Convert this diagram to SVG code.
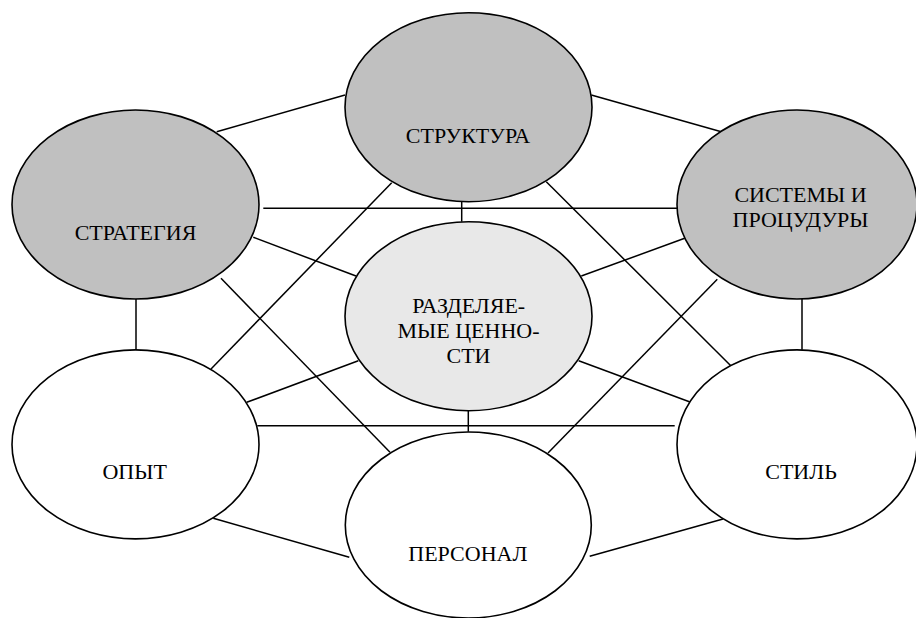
<svg xmlns="http://www.w3.org/2000/svg" width="916" height="618" viewBox="0 0 916 618">
<style>
.bg{fill:#ffffff}
.conn line{stroke:#000;stroke-width:1.5;fill:none}
.node ellipse{stroke:#000;stroke-width:1.6}
.dark{fill:#c0c0c0}
.light{fill:#e8e8e8}
.white{fill:#ffffff}
.lbl{font-family:"Times New Roman","Liberation Serif",serif;font-size:22px;fill:#000;text-anchor:middle}
</style>
<rect class="bg" x="0" y="0" width="916" height="618"/>
<g id="connectors" class="conn">
<line x1="216.7" y1="131.7" x2="345" y2="95"/>
<line x1="591.3" y1="95" x2="721.3" y2="131.7"/>
<line x1="263.3" y1="208.3" x2="677.3" y2="208.3"/>
<line x1="253.3" y1="237.3" x2="356" y2="276"/>
<line x1="221" y1="278.3" x2="390" y2="452.3"/>
<line x1="391.7" y1="182.7" x2="211" y2="369"/>
<line x1="136" y1="299" x2="136" y2="349.7"/>
<line x1="246.7" y1="402.3" x2="358.3" y2="360.7"/>
<line x1="257.3" y1="425.7" x2="674.7" y2="425.7"/>
<line x1="213.3" y1="518.3" x2="349.3" y2="557.3"/>
<line x1="546.3" y1="181.7" x2="731.3" y2="366.3"/>
<line x1="717.3" y1="279.3" x2="548" y2="453"/>
<line x1="684.7" y1="238.3" x2="581.3" y2="276"/>
<line x1="578.7" y1="360.7" x2="690.7" y2="402.3"/>
<line x1="802" y1="299" x2="802" y2="349.7"/>
<line x1="589.7" y1="556.3" x2="723" y2="519"/>
<line x1="461.7" y1="201.7" x2="461.7" y2="221.7"/>
<line x1="468.3" y1="410.7" x2="468.3" y2="431.7"/>
</g>
<g id="strategy" class="node">
<ellipse class="dark" cx="135.5" cy="204.5" rx="123.5" ry="94.5"/>
<text class="lbl" x="135.5" y="240">СТРАТЕГИЯ</text>
</g>
<g id="structure" class="node">
<ellipse class="dark" cx="468.5" cy="107.2" rx="123.5" ry="94.5"/>
<text class="lbl" x="468" y="142.7">СТРУКТУРА</text>
</g>
<g id="systems" class="node">
<ellipse class="dark" cx="797" cy="204.5" rx="120" ry="94.5"/>
<text class="lbl" x="800.5" y="202.3">СИСТЕМЫ И</text>
<text class="lbl" x="800.5" y="226.7">ПРОЦУДУРЫ</text>
</g>
<g id="values" class="node">
<ellipse class="light" cx="468.5" cy="316.2" rx="123.5" ry="94.5"/>
<text class="lbl" x="468.7" y="312.7">РАЗДЕЛЯЕ-</text>
<text class="lbl" x="468.5" y="338.3">МЫЕ ЦЕННО-</text>
<text class="lbl" x="468.5" y="363.3">СТИ</text>
</g>
<g id="experience" class="node">
<ellipse class="white" cx="135.5" cy="444.4" rx="123.5" ry="94.5"/>
<text class="lbl" x="134.7" y="479">ОПЫТ</text>
</g>
<g id="personnel" class="node">
<ellipse class="white" cx="468.3" cy="525" rx="123" ry="93"/>
<text class="lbl" x="467.8" y="561">ПЕРСОНАЛ</text>
</g>
<g id="style" class="node">
<ellipse class="white" cx="797" cy="444.4" rx="120" ry="94.5"/>
<text class="lbl" x="801" y="479">СТИЛЬ</text>
</g>
</svg>
